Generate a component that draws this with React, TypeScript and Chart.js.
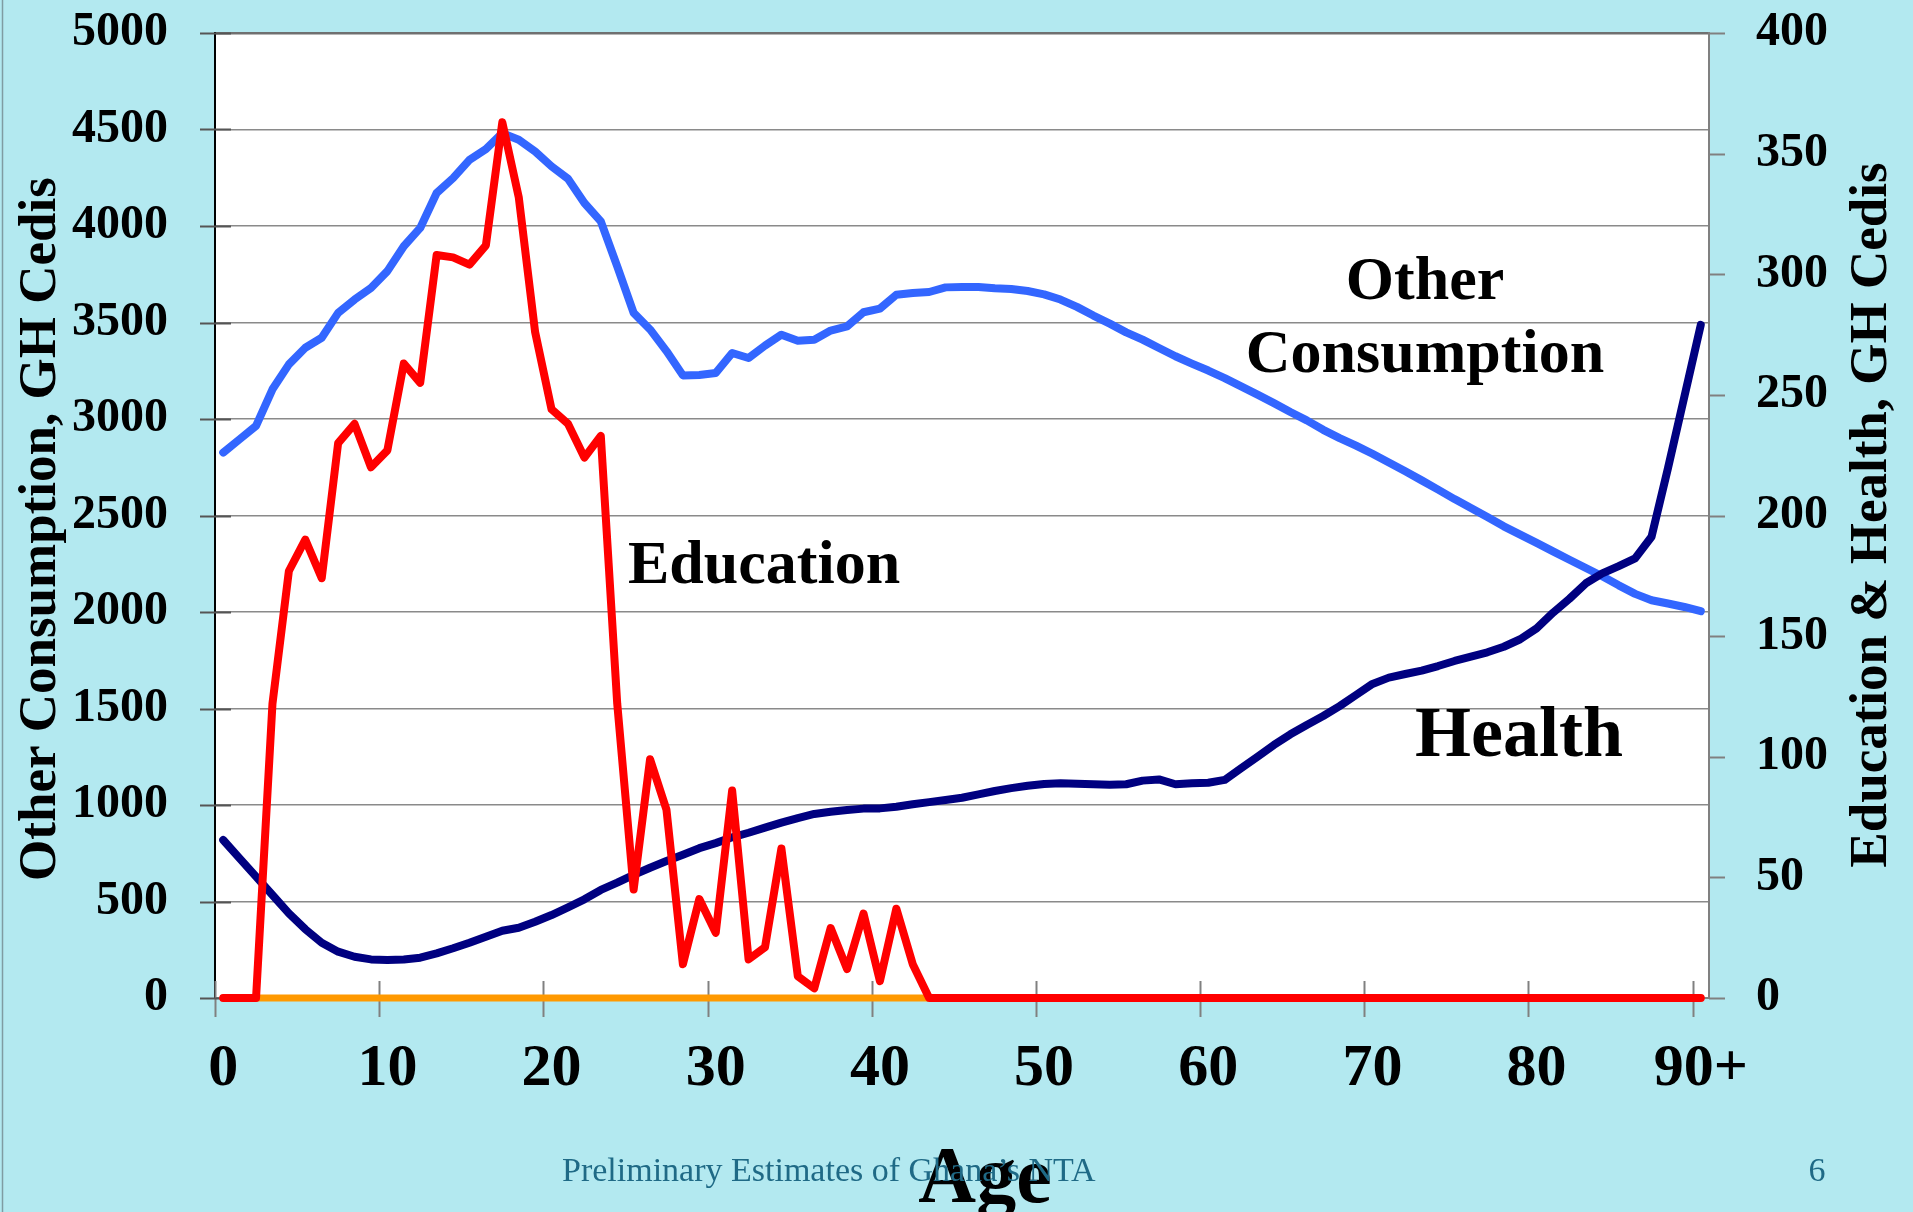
import React, { useEffect, useRef } from "react";
import { Chart, registerables } from "chart.js";

Chart.register(...registerables);

const W = 1913;
const H = 1212;
const FONT = "'Liberation Serif', 'Times New Roman', serif";

// Categories: single years of age
const ages = [
  "0", "1", "2", "3", "4", "5", "6", "7", "8", "9",
  "10", "11", "12", "13", "14", "15", "16", "17", "18", "19",
  "20", "21", "22", "23", "24", "25", "26", "27", "28", "29",
  "30", "31", "32", "33", "34", "35", "36", "37", "38", "39",
  "40", "41", "42", "43", "44", "45", "46", "47", "48", "49",
  "50", "51", "52", "53", "54", "55", "56", "57", "58", "59",
  "60", "61", "62", "63", "64", "65", "66", "67", "68", "69",
  "70", "71", "72", "73", "74", "75", "76", "77", "78", "79",
  "80", "81", "82", "83", "84", "85", "86", "87", "88", "89",
  "90+",
];

// Shown x tick labels
const xTickLabels = ["0", "10", "20", "30", "40", "50", "60", "70", "80", "90+"];

// Other consumption, GH Cedis (left axis)
const otherConsumption = [
  2826, 2895, 2964, 3154, 3283, 3369, 3421, 3550, 3619, 3679,
  3766, 3895, 3990, 4171, 4248, 4343, 4398, 4481, 4447, 4386,
  4309, 4245, 4119, 4024, 3791, 3550, 3464, 3352, 3226, 3228,
  3238, 3342, 3316, 3380, 3437, 3406, 3411, 3458, 3480, 3553,
  3572, 3644, 3653, 3658, 3682, 3684, 3684, 3677, 3674, 3663,
  3646, 3619, 3581, 3536, 3494, 3449, 3411, 3368, 3325, 3287,
  3251, 3212, 3169, 3126, 3082, 3036, 2993, 2944, 2901, 2862,
  2820, 2775, 2729, 2682, 2634, 2585, 2539, 2492, 2444, 2401,
  2358, 2314, 2271, 2228, 2185, 2138, 2094, 2061, 2044, 2026,
  2004,
];

// Education, GH Cedis (right axis)
const education = [
  0, 0, 0, 122, 177, 190, 174, 230, 238, 220,
  227, 263, 255, 308, 307, 304, 312, 363, 332, 276,
  244, 238, 224, 233, 122, 45, 99, 78, 14, 41,
  27, 86, 16, 21, 62, 9, 4, 29, 12, 35,
  7, 37, 14, 0, 0, 0, 0, 0, 0, 0,
  0, 0, 0, 0, 0, 0, 0, 0, 0, 0,
  0, 0, 0, 0, 0, 0, 0, 0, 0, 0,
  0, 0, 0, 0, 0, 0, 0, 0, 0, 0,
  0, 0, 0, 0, 0, 0, 0, 0, 0, 0,
  0,
];

// Health, GH Cedis (right axis)
const health = [
  65.5, 57.9, 50.3, 42.7, 35.1, 28.5, 22.9, 19.2, 17.1, 16.0,
  15.8, 16.0, 16.7, 18.5, 20.6, 22.9, 25.4, 27.9, 29.1, 31.6,
  34.4, 37.6, 40.9, 44.8, 47.8, 51.0, 54.0, 56.8, 59.4, 62.1,
  64.2, 66.6, 68.5, 70.6, 72.7, 74.6, 76.3, 77.2, 77.9, 78.5,
  78.6, 79.3, 80.3, 81.2, 82.1, 83.0, 84.4, 85.8, 87.0, 88.0,
  88.7, 89.0, 88.8, 88.6, 88.4, 88.6, 90.1, 90.6, 88.6, 89.0,
  89.2, 90.4, 95.2, 100.0, 104.9, 109.3, 113.2, 116.9, 121.0, 125.6,
  130.2, 132.8, 134.3, 135.7, 137.6, 139.7, 141.5, 143.3, 145.6, 148.7,
  153.2, 159.7, 165.5, 171.9, 176.0, 179.0, 182.2, 191.2, 219.6, 249.3,
  279.0,
];

// Orange series lying on zero (right axis)
const zeroSeries = [
  0, 0, 0, 0, 0, 0, 0, 0, 0, 0,
  0, 0, 0, 0, 0, 0, 0, 0, 0, 0,
  0, 0, 0, 0, 0, 0, 0, 0, 0, 0,
  0, 0, 0, 0, 0, 0, 0, 0, 0, 0,
  0, 0, 0, 0, 0, 0, 0, 0, 0, 0,
  0, 0, 0, 0, 0, 0, 0, 0, 0, 0,
  0, 0, 0, 0, 0, 0, 0, 0, 0, 0,
  0, 0, 0, 0, 0, 0, 0, 0, 0, 0,
  0, 0, 0, 0, 0, 0, 0, 0, 0, 0,
  0,
];

const decoPlugin = {
  id: "deco",
  beforeDraw(chart: any) {
    const { ctx, chartArea: a } = chart;
    ctx.save();
    ctx.fillStyle = "#b3e9f0";
    ctx.fillRect(0, 0, chart.width, chart.height);
    ctx.fillStyle = "#ffffff";
    ctx.fillRect(a.left, a.top, a.right - a.left, a.bottom - a.top);
    ctx.strokeStyle = "#7f9ca2";
    ctx.lineWidth = 1.5;
    ctx.beginPath();
    ctx.moveTo(2.5, 0);
    ctx.lineTo(2.5, chart.height);
    ctx.stroke();
    ctx.restore();
  },
  beforeDatasetsDraw(chart: any) {
    const { ctx, chartArea: a } = chart;
    const xs = chart.scales.x;
    const ys = chart.scales.y;
    const ys1 = chart.scales.y1;
    const half = (xs.getPixelForValue(1) - xs.getPixelForValue(0)) / 2;
    ctx.save();
    ctx.lineWidth = 2;
    // x tick marks crossing the axis, every 10 categories
    ctx.strokeStyle = "#808080";
    for (let i = 0; i < ages.length; i += 10) {
      const x = Math.round(xs.getPixelForValue(i) - half) + 0.5;
      ctx.beginPath();
      ctx.moveTo(x, a.bottom - 17);
      ctx.lineTo(x, a.bottom + 19);
      ctx.stroke();
    }
    // left axis tick marks crossing the axis
    ctx.strokeStyle = "#555";
    ys.ticks.forEach((t: any) => {
      const y = Math.round(ys.getPixelForValue(t.value)) + 0.5;
      ctx.beginPath();
      ctx.moveTo(a.left - 15, y);
      ctx.lineTo(a.left + 16, y);
      ctx.stroke();
    });
    // right axis tick marks, outward
    ctx.strokeStyle = "#808080";
    ys1.ticks.forEach((t: any) => {
      const y = Math.round(ys1.getPixelForValue(t.value)) + 0.5;
      ctx.beginPath();
      ctx.moveTo(a.right, y);
      ctx.lineTo(a.right + 16, y);
      ctx.stroke();
    });
    ctx.restore();
  },
  afterDraw(chart: any) {
    const { ctx } = chart;
    ctx.save();
    ctx.fillStyle = "#000";
    ctx.textBaseline = "alphabetic";

    // Series annotations
    ctx.font = `bold 62px ${FONT}`;
    ctx.textAlign = "center";
    ctx.fillText("Other", 1425, 299);
    ctx.fillText("Consumption", 1425, 372);
    ctx.textAlign = "left";
    ctx.fillText("Education", 628, 583);
    ctx.font = `bold 72px ${FONT}`;
    ctx.textAlign = "center";
    ctx.fillText("Health", 1519, 756);

    // Axis titles
    ctx.font = `bold 53px ${FONT}`;
    ctx.save();
    ctx.translate(55, 529);
    ctx.rotate(-Math.PI / 2);
    ctx.textAlign = "center";
    ctx.fillText("Other Consumption, GH Cedis", 0, 0);
    ctx.restore();
    ctx.save();
    ctx.translate(1886, 515);
    ctx.rotate(-Math.PI / 2);
    ctx.textAlign = "center";
    ctx.fillText("Education & Health, GH Cedis", 0, 0);
    ctx.restore();

    ctx.font = `bold 80px ${FONT}`;
    ctx.textAlign = "center";
    ctx.fillText("Age", 985, 1202);

    // Footer
    ctx.font = `34px ${FONT}`;
    ctx.fillStyle = "#1f6a86";
    ctx.textAlign = "left";
    ctx.fillText("Preliminary Estimates of Ghana\u2019s NTA", 562, 1181);
    ctx.textAlign = "center";
    ctx.fillText("6", 1817, 1181);
    ctx.restore();
  },
};

export default function App() {
  const ref = useRef<HTMLCanvasElement | null>(null);

  useEffect(() => {
    if (!ref.current) return;
    const lineCommon = {
      pointRadius: 0,
      borderCapStyle: "round",
      borderJoinStyle: "round",
      tension: 0,
      fill: false,
      clip: 8,
    };
    const chart = new Chart(ref.current, {
      type: "line",
      data: {
        labels: ages,
        datasets: [
          { ...lineCommon, label: "Education", data: education, yAxisID: "y1", borderColor: "#ff0000", borderWidth: 8, order: 0 },
          { ...lineCommon, label: "Health", data: health, yAxisID: "y1", borderColor: "#000080", borderWidth: 8, order: 1 },
          { ...lineCommon, label: "Other Consumption", data: otherConsumption, yAxisID: "y", borderColor: "#3366ff", borderWidth: 8, order: 2 },
          { ...lineCommon, label: "Zero", data: zeroSeries, yAxisID: "y1", borderColor: "#ff9900", borderWidth: 7, order: 3 },
        ] as any,
      },
      options: {
        responsive: false,
        animation: false,
        layout: { padding: { top: 33, left: 0, right: 0, bottom: 0 } },
        plugins: { legend: { display: false }, tooltip: { enabled: false } },
        scales: {
          x: {
            type: "category",
            offset: true,
            grid: {
              offset: true,
              drawOnChartArea: false,
              tickLength: 19,
              lineWidth: 2,
              color: "rgba(0,0,0,0)",
            },
            border: { display: true, color: "#808080", width: 2 },
            ticks: {
              autoSkip: false,
              maxRotation: 0,
              minRotation: 0,
              padding: 16,
              color: "#000",
              font: { family: FONT, size: 60, weight: "bold" },
              callback: (_v: any, i: number) => (xTickLabels.includes(ages[i]) ? ages[i] : ""),
            },
            afterFit: (s: any) => {
              s.height = 214;
            },
          },
          y: {
            position: "left",
            min: 0,
            max: 5000,
            ticks: {
              stepSize: 500,
              padding: 0,
              color: "#000",
              font: { family: FONT, size: 48, weight: "bold", lineHeight: 1 },
              callback: (v: any) => String(v),
            },
            grid: {
              color: (c: any) => (c.tick && c.tick.value === 5000 ? "#707070" : "#8a8a8a"),
              lineWidth: (c: any) => (c.tick && c.tick.value === 5000 ? 2.5 : 1.5),
              tickLength: 47,
              tickColor: "rgba(0,0,0,0)",
            },
            border: { color: "#000", width: 2 },
            afterFit: (s: any) => {
              s.width = 215;
            },
          },
          y1: {
            position: "right",
            min: 0,
            max: 400,
            ticks: {
              stepSize: 50,
              padding: 0,
              color: "#000",
              font: { family: FONT, size: 48, weight: "bold", lineHeight: 1 },
              callback: (v: any) => String(v),
            },
            grid: {
              drawOnChartArea: false,
              tickLength: 47,
              color: "rgba(0,0,0,0)",
            },
            border: { color: "#808080", width: 2 },
            afterFit: (s: any) => {
              s.width = 204;
            },
          },
        },
      } as any,
      plugins: [decoPlugin],
    });
    return () => chart.destroy();
  }, []);

  return (
    <div
      style={{
        position: "absolute",
        left: 0,
        top: 0,
        width: W,
        height: H,
        background: "#b3e9f0",
        overflow: "hidden",
      }}
    >
      <canvas ref={ref} width={W} height={H} style={{ width: W, height: H, display: "block" }} />
    </div>
  );
}
